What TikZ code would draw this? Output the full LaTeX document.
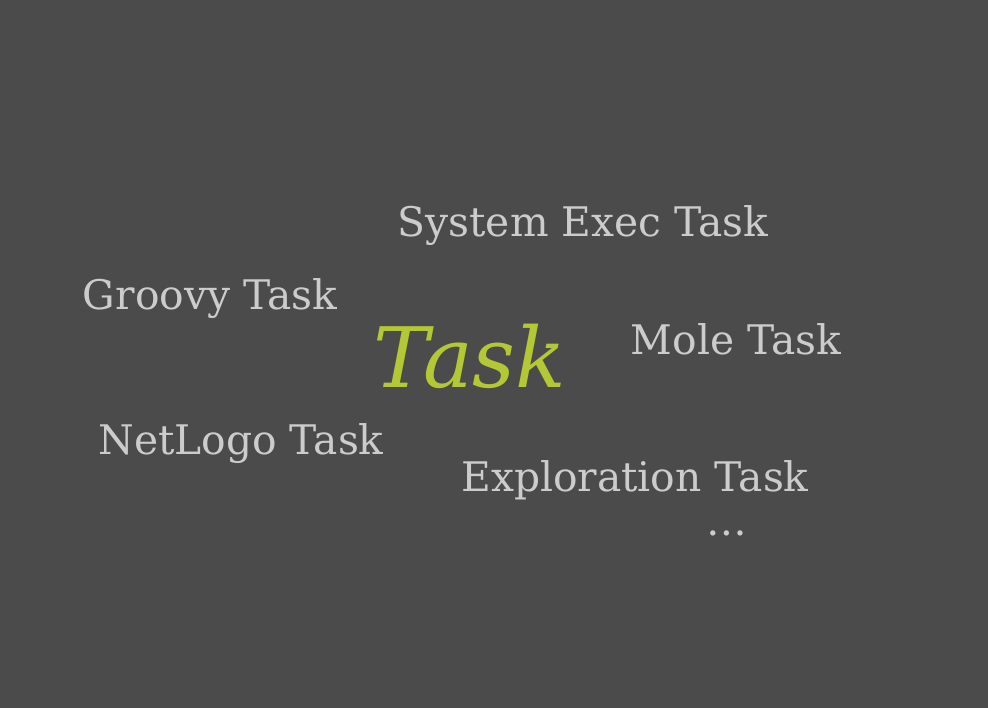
\documentclass[tikz,border=0pt]{standalone}
\usepackage{fontspec}
\setmainfont{DejaVu Serif}
\definecolor{bgGray}{HTML}{4B4B4B}
\definecolor{wordGray}{HTML}{CCCCCC}
\definecolor{taskGreen}{HTML}{B3C834}
\tikzset{
  word/.style={text=wordGray, font=\fontsize{23.2}{27}\selectfont, inner sep=0pt},
  mainword/.style={text=taskGreen, font=\fontsize{47.5}{54}\selectfont\itshape, inner sep=0pt}
}

\begin{document}
\begin{tikzpicture}[x=0.02cm,y=-0.02cm]
  \fill[bgGray] (0,0) rectangle (988,708);
  \useasboundingbox (0,0) rectangle (988,708);
  \node[mainword] (task) at (470,356) {Task};
  \node[word] (sysexec) at (583,226) {System Exec Task};
  \node[word] (groovy) at (210,299) {Groovy Task};
  \node[word] (mole) at (736,339) {Mole Task};
  \node[word] (netlogo) at (241,444) {NetLogo Task};
  \node[word] (exploration) at (635,480) {Exploration Task};
  \node[word] (more) at (727,533) {\dots};
\end{tikzpicture}
\end{document}
